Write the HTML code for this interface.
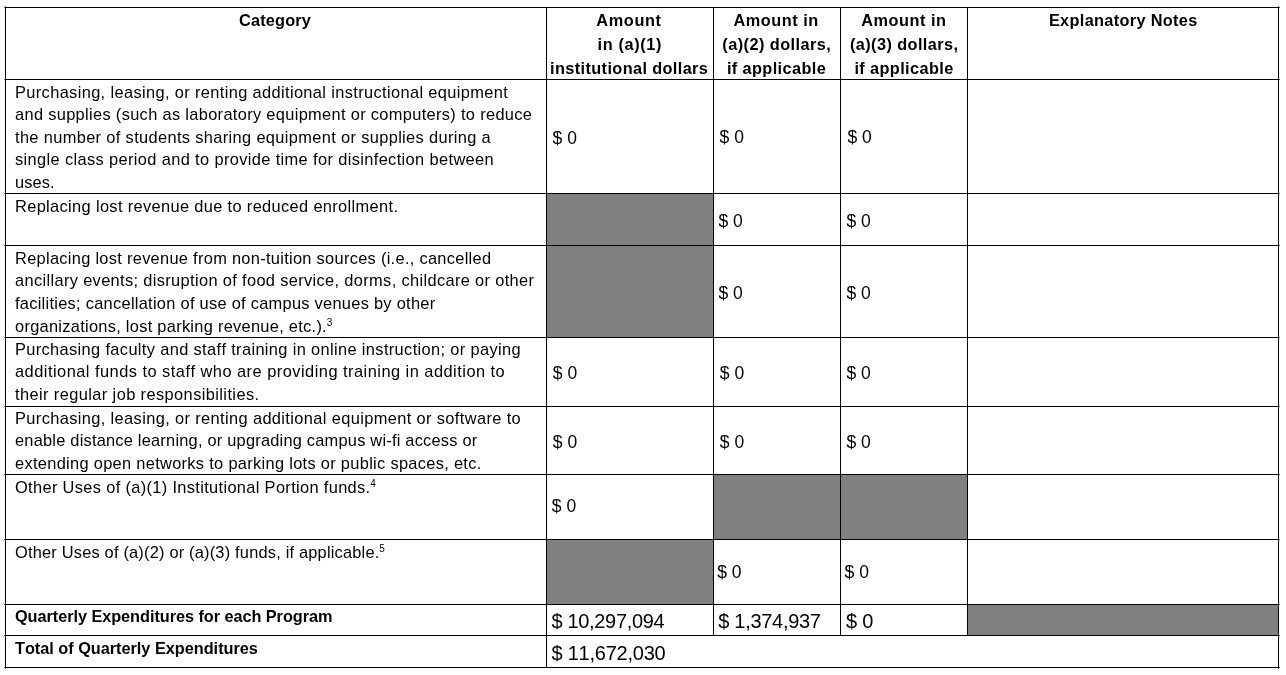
<!DOCTYPE html>
<html lang="en">
<head>
<meta charset="utf-8">
<title>Quarterly Expenditures</title>
<style>
html,body{margin:0;padding:0;background:#fff;}
body{width:1286px;height:675px;position:relative;overflow:hidden;font-family:"Liberation Sans",sans-serif;color:#000;font-kerning:none;}
table{position:absolute;left:5px;top:7px;border-collapse:separate;border-spacing:0;table-layout:fixed;width:1274px;border-left:1px solid #000;border-top:1px solid #000;}
td,th{box-sizing:border-box;border-right:1px solid #000;border-bottom:1px solid #000;padding:0;vertical-align:top;font-weight:normal;text-align:left;}
td.g{background:#808080;}
.l{position:absolute;white-space:nowrap;line-height:20px;height:20px;}
.hb{font-weight:bold;font-size:16.3px;}
.t{font-size:16.4px;}
.tb{font-size:16.3px;font-weight:bold;}
.v{font-size:17.5px;}
.w{font-size:20px;}
.ticks{position:absolute;left:-1px;top:-1px;width:1px;height:1px;box-shadow:5px 8px 0 0 #555,1280px 8px 0 0 #555,5px 80px 0 0 #555,1280px 80px 0 0 #555,5px 194px 0 0 #555,1280px 194px 0 0 #555,5px 246px 0 0 #555,1280px 246px 0 0 #555,5px 338px 0 0 #555,1280px 338px 0 0 #555,5px 407px 0 0 #555,1280px 407px 0 0 #555,5px 475px 0 0 #555,1280px 475px 0 0 #555,5px 540px 0 0 #555,1280px 540px 0 0 #555,5px 605px 0 0 #555,1280px 605px 0 0 #555,5px 636px 0 0 #555,1280px 636px 0 0 #555,5px 668px 0 0 #555,1280px 668px 0 0 #555,6px 7px 0 0 #666,6px 669px 0 0 #666,1279px 7px 0 0 #666,1279px 669px 0 0 #666;}
sup{font-size:10px;line-height:0;vertical-align:baseline;position:relative;top:-6px;margin-left:-0.3px;letter-spacing:0;}
</style>
</head>
<body>
<div class="ticks"></div>
<table>
<colgroup><col style="width:541px"><col style="width:167px"><col style="width:127px"><col style="width:127px"><col style="width:311px"></colgroup>
<tr style="height:72px">
<th>
<div class="l hb" id="h1" style="left:233.10px;top:2.00px;letter-spacing:0.164px">Category</div>
</th>
<th>
<div class="l hb" id="h2a" style="left:590.30px;top:2.00px;letter-spacing:0.642px">Amount</div>
<div class="l hb" id="h2b" style="left:591.50px;top:26.00px;letter-spacing:0.650px">in (a)(1)</div>
<div class="l hb" id="h2c" style="left:544.10px;top:50.00px;letter-spacing:0.382px">institutional dollars</div>
</th>
<th>
<div class="l hb" id="h3a" style="left:727.50px;top:2.00px;letter-spacing:0.520px">Amount in</div>
<div class="l hb" id="h3b" style="left:716.30px;top:26.00px;letter-spacing:0.450px">(a)(2) dollars,</div>
<div class="l hb" id="h3c" style="left:720.90px;top:50.00px;letter-spacing:0.397px">if applicable</div>
</th>
<th>
<div class="l hb" id="h4a" style="left:855.30px;top:2.00px;letter-spacing:0.520px">Amount in</div>
<div class="l hb" id="h4b" style="left:843.94px;top:26.00px;letter-spacing:0.416px">(a)(3) dollars,</div>
<div class="l hb" id="h4c" style="left:848.38px;top:50.00px;letter-spacing:0.397px">if applicable</div>
</th>
<th>
<div class="l hb" id="h5" style="left:1042.90px;top:2.00px;letter-spacing:0.340px">Explanatory Notes</div>
</th>
</tr>
<tr style="height:114px">
<td>
<div class="l t" id="r2a" style="left:9.00px;top:74.00px;letter-spacing:0.362px">Purchasing, leasing, or renting additional instructional equipment</div>
<div class="l t" id="r2b" style="left:9.00px;top:96.00px;letter-spacing:0.328px">and supplies (such as laboratory equipment or computers) to reduce</div>
<div class="l t" id="r2c" style="left:9.00px;top:119.00px;letter-spacing:0.351px">the number of students sharing equipment or supplies during a</div>
<div class="l t" id="r2d" style="left:9.00px;top:141.00px;letter-spacing:0.367px">single class period and to provide time for disinfection between</div>
<div class="l t" id="r2e" style="left:9.00px;top:164.00px;letter-spacing:0.070px">uses.</div>
</td>
<td>
<div class="l v" id="v2b" style="left:546.56px;top:120.00px;letter-spacing:0.000px">$ 0</div>
</td>
<td>
<div class="l v" id="v2c" style="left:713.56px;top:119.00px;letter-spacing:0.000px">$ 0</div>
</td>
<td>
<div class="l v" id="v2d" style="left:841.44px;top:119.00px;letter-spacing:0.000px">$ 0</div>
</td>
<td></td>
</tr>
<tr style="height:52px">
<td>
<div class="l t" id="r3a" style="left:9.00px;top:188.00px;letter-spacing:0.347px">Replacing lost revenue due to reduced enrollment.</div>
</td>
<td class="g"></td>
<td>
<div class="l v" id="v3c" style="left:712.50px;top:203.00px;letter-spacing:0.000px">$ 0</div>
</td>
<td>
<div class="l v" id="v3d" style="left:840.40px;top:203.00px;letter-spacing:0.000px">$ 0</div>
</td>
<td></td>
</tr>
<tr style="height:92px">
<td>
<div class="l t" id="r4a" style="left:9.00px;top:240.00px;letter-spacing:0.297px">Replacing lost revenue from non-tuition sources (i.e., cancelled</div>
<div class="l t" id="r4b" style="left:9.00px;top:262.00px;letter-spacing:0.347px">ancillary events; disruption of food service, dorms, childcare or other</div>
<div class="l t" id="r4c" style="left:9.00px;top:285.00px;letter-spacing:0.279px">facilities; cancellation of use of campus venues by other</div>
<div class="l t" id="r4d" style="left:9.00px;top:308.00px;letter-spacing:0.284px">organizations, lost parking revenue, etc.).<sup>3</sup></div>
</td>
<td class="g"></td>
<td>
<div class="l v" id="v4c" style="left:712.50px;top:275.00px;letter-spacing:0.000px">$ 0</div>
</td>
<td>
<div class="l v" id="v4d" style="left:840.40px;top:275.00px;letter-spacing:0.000px">$ 0</div>
</td>
<td></td>
</tr>
<tr style="height:69px">
<td>
<div class="l t" id="r5a" style="left:9.00px;top:331.00px;letter-spacing:0.355px">Purchasing faculty and staff training in online instruction; or paying</div>
<div class="l t" id="r5b" style="left:9.00px;top:353.00px;letter-spacing:0.476px">additional funds to staff who are providing training in addition to</div>
<div class="l t" id="r5c" style="left:9.00px;top:376.00px;letter-spacing:0.399px">their regular job responsibilities.</div>
</td>
<td>
<div class="l v" id="v5b" style="left:546.80px;top:355.00px;letter-spacing:0.000px">$ 0</div>
</td>
<td>
<div class="l v" id="v5c" style="left:713.80px;top:355.00px;letter-spacing:0.000px">$ 0</div>
</td>
<td>
<div class="l v" id="v5d" style="left:840.40px;top:355.00px;letter-spacing:0.000px">$ 0</div>
</td>
<td></td>
</tr>
<tr style="height:68px">
<td>
<div class="l t" id="r6a" style="left:9.00px;top:400.00px;letter-spacing:0.373px">Purchasing, leasing, or renting additional equipment or software to</div>
<div class="l t" id="r6b" style="left:9.00px;top:422.00px;letter-spacing:0.217px">enable distance learning, or upgrading campus wi-fi access or</div>
<div class="l t" id="r6c" style="left:9.00px;top:445.00px;letter-spacing:0.310px">extending open networks to parking lots or public spaces, etc.</div>
</td>
<td>
<div class="l v" id="v6b" style="left:546.80px;top:424.00px;letter-spacing:0.000px">$ 0</div>
</td>
<td>
<div class="l v" id="v6c" style="left:713.80px;top:424.00px;letter-spacing:0.000px">$ 0</div>
</td>
<td>
<div class="l v" id="v6d" style="left:840.40px;top:424.00px;letter-spacing:0.000px">$ 0</div>
</td>
<td></td>
</tr>
<tr style="height:65px">
<td>
<div class="l t" id="r7a" style="left:9.00px;top:469.00px;letter-spacing:0.339px">Other Uses of (a)(1) Institutional Portion funds.<sup>4</sup></div>
</td>
<td>
<div class="l v" id="v7b" style="left:545.80px;top:488.00px;letter-spacing:0.000px">$ 0</div>
</td>
<td class="g"></td>
<td class="g"></td>
<td></td>
</tr>
<tr style="height:65px">
<td>
<div class="l t" id="r8a" style="left:9.00px;top:534.00px;letter-spacing:0.195px">Other Uses of (a)(2) or (a)(3) funds, if applicable.<sup>5</sup></div>
</td>
<td class="g"></td>
<td>
<div class="l v" id="v8c" style="left:711.20px;top:554.00px;letter-spacing:0.000px">$ 0</div>
</td>
<td>
<div class="l v" id="v8d" style="left:838.62px;top:554.00px;letter-spacing:0.000px">$ 0</div>
</td>
<td></td>
</tr>
<tr style="height:31px">
<td>
<div class="l tb" id="r9a" style="left:9.00px;top:598.00px;letter-spacing:-0.051px">Quarterly Expenditures for each Program</div>
</td>
<td>
<div class="l w" id="v9b" style="left:545.44px;top:603.00px;letter-spacing:-0.320px">$ 10,297,094</div>
</td>
<td>
<div class="l w" id="v9c" style="left:712.20px;top:603.00px;letter-spacing:-0.288px">$ 1,374,937</div>
</td>
<td>
<div class="l w" id="v9d" style="left:840.04px;top:603.00px;letter-spacing:-0.240px">$ 0</div>
</td>
<td class="g"></td>
</tr>
<tr style="height:32px">
<td>
<div class="l tb" id="r10a" style="left:9.00px;top:630.00px;letter-spacing:-0.016px">Total of Quarterly Expenditures</div>
</td>
<td colspan="4">
<div class="l w" id="v10b" style="left:545.44px;top:635.00px;letter-spacing:-0.225px">$ 11,672,030</div>
</td>
</tr>
</table>
</body>
</html>
